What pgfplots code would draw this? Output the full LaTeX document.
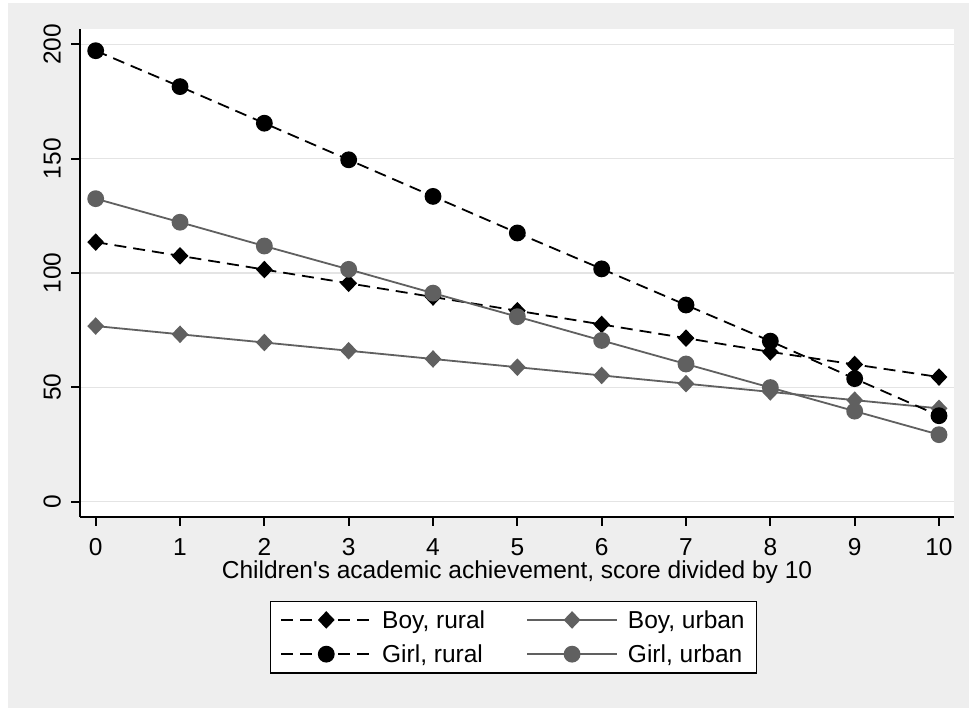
\documentclass[border=0pt]{standalone}
\usepackage{fontspec}
\setmainfont{Liberation Sans}[Ligatures=TeXOff]
\usepackage{pgfplots}
\pgfplotsset{compat=1.18}
\definecolor{bggray}{RGB}{238,238,238}
\definecolor{gridgray}{RGB}{228,228,228}
\definecolor{urbgray}{RGB}{96,96,96}
\newcommand{\fs}{\fontsize{24.5bp}{29bp}\selectfont}
\begin{document}
\begin{tikzpicture}
\path[use as bounding box] (0,0) rectangle (969bp,708bp);
\fill[white] (0,0) rectangle (969bp,708bp);
\fill[bggray] (8bp,0) rectangle (969bp,705bp);
\begin{axis}[
  at={(80bp,191bp)}, anchor=south west,
  scale only axis, width=874bp, height=488bp,
  xmin=-0.186, xmax=10.178, ymin=-6.7, ymax=206.7,
  axis lines=left,
  axis line style={-, line width=1.8bp, black},
  axis background/.style={fill=white},
  xtick={0,...,10}, ytick={0,50,100,150,200},
  tick align=outside, major tick length=9bp,
  tick style={line width=1.8bp, black},
  ymajorgrids, grid style={color=gridgray, line width=1.5bp},
  /pgf/number format/assume math mode=true,
  ticklabel style={font=\fs},
  yticklabel style={rotate=90, anchor=south, inner sep=10bp},
  xticklabel style={anchor=north, inner sep=12bp},
  xlabel={Children's academic achievement, score divided by 10},
  xlabel style={font=\fs, at={(axis description cs:0.5,0)}, anchor=north, yshift=-44bp, inner sep=0pt},
  legend style={font=\fs, at={(axis description cs:0.496,-0.246)}, anchor=center,
    draw=black, line width=1.5bp, fill=white, inner xsep=10bp, inner ysep=7bp,
    /tikz/every odd column/.append style={column sep=8bp},
    /tikz/every even column/.append style={column sep=39bp},
    row sep=11bp},
  legend columns=2,
  legend cell align=left,
  legend image code/.code={\draw[mark repeat=2,mark phase=2] plot coordinates {(0bp,0bp) (45bp,0bp) (90bp,0bp)};},
]
\addplot[black, line width=1.8bp, dash pattern=on 12bp off 7bp, mark=diamond*, mark size=7.5bp, mark options={solid, xscale=1.27, fill=black}]
  coordinates {(0,113.5)(1,107.5)(2,101.5)(3,95.5)(4,89.5)(5,83.5)(6,77.5)(7,71.5)(8,65.5)(9,60)(10,54.5)};
\addlegendentry{Boy, rural}
\addplot[urbgray, line width=1.8bp, mark=diamond*, mark size=7.5bp, mark options={solid, xscale=1.27, fill=urbgray}]
  coordinates {(0,76.8)(1,73.2)(2,69.6)(3,66)(4,62.4)(5,58.8)(6,55.2)(7,51.6)(8,48)(9,44.4)(10,40.8)};
\addlegendentry{Boy, urban}
\addplot[black, line width=1.8bp, dash pattern=on 12bp off 7bp, mark=*, mark size=7.5bp, mark options={solid, fill=black}]
  coordinates {(0,197.2)(1,181.5)(2,165.5)(3,149.5)(4,133.5)(5,117.5)(6,101.8)(7,86)(8,70.2)(9,53.8)(10,37.6)};
\addlegendentry{Girl, rural}
\addplot[urbgray, line width=1.8bp, mark=*, mark size=7.5bp, mark options={solid, fill=urbgray}]
  coordinates {(0,132.5)(1,122.2)(2,111.8)(3,101.6)(4,91.2)(5,80.9)(6,70.5)(7,60.2)(8,49.9)(9,39.6)(10,29.3)};
\addlegendentry{Girl, urban}
\end{axis}
\end{tikzpicture}
\end{document}
